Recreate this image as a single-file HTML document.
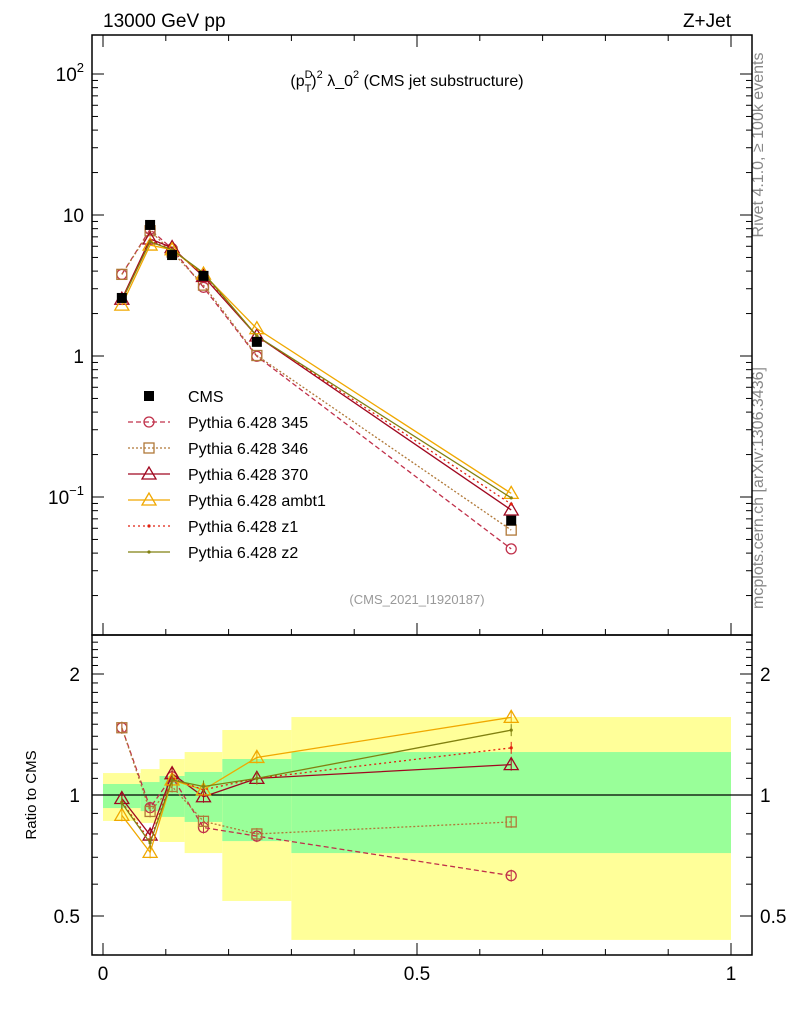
<!DOCTYPE html>
<html><head><meta charset="utf-8"><style>
body{margin:0;background:#fff}
svg{display:block;font-family:"Liberation Sans",sans-serif}
</style></head><body>
<svg id="c" width="786" height="1024" viewBox="0 0 786 1024">
<text x="103" y="27" font-size="19">13000 GeV pp</text>
<text x="731" y="27" font-size="19" text-anchor="end">Z+Jet</text>
<text x="407" y="86" font-size="16" text-anchor="middle">(p<tspan font-size="11" dy="-8">D</tspan><tspan font-size="11" dy="14" dx="-8">T</tspan><tspan dy="-6">)</tspan><tspan font-size="11" dy="-8">2</tspan><tspan dy="8"> λ_0</tspan><tspan font-size="11" dy="-8">2</tspan><tspan dy="8"> (CMS jet substructure)</tspan></text>
<text x="417" y="604" font-size="13" fill="#999" text-anchor="middle">(CMS_2021_I1920187)</text>
<text transform="translate(763,145) rotate(-90)" font-size="16" fill="#888" text-anchor="middle">Rivet 4.1.0, ≥ 100k events</text>
<text transform="translate(763,488) rotate(-90)" font-size="16" fill="#888" text-anchor="middle">mcplots.cern.ch [arXiv:1306.3436]</text>
<text transform="translate(36,795) rotate(-90)" font-size="15" text-anchor="middle">Ratio to CMS</text>
<g id="bands"></g><g id="axes"></g><g id="series"></g><g id="legend"></g>
</svg>
<script>
const edges=[0,0.06,0.09,0.13,0.19,0.30,1.0];
const xs=[0.03,0.075,0.11,0.16,0.245,0.65];
const cms=[2.58,8.5,5.2,3.7,1.26,0.068];
const yelHi=[1.134,1.16,1.229,1.279,1.451,1.563];
const yelLo=[0.862,0.852,0.764,0.717,0.545,0.436];
const grnHi=[1.065,1.077,1.115,1.141,1.229,1.279];
const grnLo=[0.928,0.912,0.882,0.857,0.768,0.717];
const r345=[1.47,0.93,1.11,0.83,0.79,0.63];
const r346=[1.47,0.91,1.05,0.86,0.80,0.857];
const r370=[0.98,0.795,1.13,0.99,1.10,1.19];
const rAmbt1=[0.89,0.72,1.09,1.03,1.24,1.56];
const rZ1=[0.96,0.77,1.10,1.03,1.10,1.31];
const rZ2=[0.955,0.76,1.09,1.05,1.10,1.45];
const mainTicks=["10^-1","1","10","10^2"];
const ratioTicks=["0.5","1","2"];
const xTicks=["0","0.5","1"];

const NS="http://www.w3.org/2000/svg";
const X=v=>103+v*628;
const Ym=v=>356-141*Math.log10(v);
const Yr=v=>795-121*Math.log2(v);
function mk(t,a,p){const e=document.createElementNS(NS,t);for(const k in a)e.setAttribute(k,a[k]);p.appendChild(e);return e;}
const bands=document.getElementById('bands'),axes=document.getElementById('axes'),ser=document.getElementById('series'),leg=document.getElementById('legend');
for(let i=0;i<6;i++){
 const y=mk('rect',{x:X(edges[i]),y:Yr(yelHi[i]),width:X(edges[i+1])-X(edges[i]),height:Yr(yelLo[i])-Yr(yelHi[i]),fill:'#ffff99'},bands);
 
 
 const g=mk('rect',{x:X(edges[i]),y:Yr(grnHi[i]),width:X(edges[i+1])-X(edges[i]),height:Yr(grnLo[i])-Yr(grnHi[i]),fill:'#99ff99'},bands);
 
 
}
const f1=mk('rect',{x:92,y:35,width:660,height:600,fill:'none',stroke:'#000','stroke-width':1.5},axes);


const f2=mk('rect',{x:92,y:635,width:660,height:320,fill:'none',stroke:'#000','stroke-width':1.5},axes);


const one=mk('line',{x1:92,x2:752,y1:795,y2:795,stroke:'#000','stroke-width':1.2},axes);


for(let k=0;k<=10;k++){const v=k/10,maj=k%5==0;
 for(const yb of [955,635]){mk('line',{x1:X(v),x2:X(v),y1:yb,y2:yb-(maj?12:6),stroke:'#000'},axes);}
 mk('line',{x1:X(v),x2:X(v),y1:35,y2:35+(maj?12:6),stroke:'#000'},axes);}
xTicks.forEach((t,i)=>{const e=mk('text',{x:X(i*0.5),y:980,'font-size':19,'text-anchor':'middle'},axes);e.textContent=t;
 
 });
for(let d=-2;d<=2;d++)for(let m=1;m<10;m++){const v=m*Math.pow(10,d),y=Ym(v);if(y<35||y>635)continue;const L=m==1?12:6;
 mk('line',{x1:92,x2:92+L,y1:y,y2:y,stroke:'#000'},axes);mk('line',{x1:752,x2:752-L,y1:y,y2:y,stroke:'#000'},axes);}
const mv=[0.1,1,10,100];
mainTicks.forEach((t,i)=>{const y=Ym(mv[i])+7;const e=mk('text',{x:84,y:y,'font-size':19,'text-anchor':'end'},axes);
 
 
 if(t.includes('^')){const [b,p]=t.split('^');e.textContent=b;const s=mk('tspan',{'font-size':13,dy:-9},e);s.textContent=p.replace('-','−');}else e.textContent=t;});
for(let k=0;k<=30;k++){const v=0.4+k*0.1;if(v>2.5)break;const y=Yr(v);if(y<635||y>955)continue;
 const maj=[0.5,1,2].some(q=>Math.abs(q-v)<1e-6);const L=maj?12:6;
 mk('line',{x1:92,x2:92+L,y1:y,y2:y,stroke:'#000'},axes);mk('line',{x1:752,x2:752-L,y1:y,y2:y,stroke:'#000'},axes);}
const rv=[0.5,1,2];
ratioTicks.forEach((t,i)=>{for(const [x,a] of [[80,'end'],[760,'start']]){const e=mk('text',{x:x,y:Yr(rv[i])+7,'font-size':19,'text-anchor':a},axes);e.textContent=t;
 
 }});
const defs=[
 {n:'pythia-345',lab:'Pythia 6.428 345',r:r345,c:'#c0304a',d:'5,3',m:'circle'},
 {n:'pythia-346',lab:'Pythia 6.428 346',r:r346,c:'#b07838',d:'2,2',m:'square'},
 {n:'pythia-370',lab:'Pythia 6.428 370',r:r370,c:'#a00820',d:'',m:'tri'},
 {n:'pythia-ambt1',lab:'Pythia 6.428 ambt1',r:rAmbt1,c:'#f0a800',d:'',m:'tri'},
 {n:'pythia-z1',lab:'Pythia 6.428 z1',r:rZ1,c:'#e02010',d:'2,3',m:'dot'},
 {n:'pythia-z2',lab:'Pythia 6.428 z2',r:rZ2,c:'#808010',d:'',m:'dot'}];
function marker(m,x,y,c,p){
 if(m=='circle')return mk('circle',{cx:x,cy:y,r:5,fill:'none',stroke:c,'stroke-width':1.3},p);
 if(m=='square')return mk('rect',{x:x-5,y:y-5,width:10,height:10,fill:'none',stroke:c,'stroke-width':1.3},p);
 if(m=='tri')return mk('polygon',{points:`${x},${y-7} ${x-7},${y+5} ${x+7},${y+5}`,fill:'none',stroke:c,'stroke-width':1.3},p);
 return mk('circle',{cx:x,cy:y,r:1.6,fill:c},p);}
defs.forEach((s,j)=>{
 const g=mk('g',{},ser);
 
 
 const pm=xs.map((x,i)=>X(x)+','+Ym(cms[i]*s.r[i])).join(' ');
 const pr=xs.map((x,i)=>X(x)+','+Yr(s.r[i])).join(' ');
 mk('polyline',{points:pm,fill:'none',stroke:s.c,'stroke-width':1.3,'stroke-dasharray':s.d},g);
 mk('polyline',{points:pr,fill:'none',stroke:s.c,'stroke-width':1.3,'stroke-dasharray':s.d},g);
 xs.forEach((x,i)=>{marker(s.m,X(x),Ym(cms[i]*s.r[i]),s.c,g);
  const yr=Yr(s.r[i]);mk('line',{x1:X(x),x2:X(x),y1:yr-6,y2:yr+6,stroke:s.c},g);marker(s.m,X(x),yr,s.c,g);});
 const ly=422+26*j;
 mk('line',{x1:128,x2:170,y1:ly,y2:ly,stroke:s.c,'stroke-width':1.3,'stroke-dasharray':s.d},leg);
 marker(s.m,149,ly,s.c,leg);
 const t=mk('text',{x:188,y:ly+6,'font-size':16},leg);t.textContent=s.lab;
 
 
});
const cg=mk('g',{},ser);


xs.forEach((x,i)=>mk('rect',{x:X(x)-5,y:Ym(cms[i])-5,width:10,height:10,fill:'#000'},cg));
mk('rect',{x:144,y:391,width:10,height:10,fill:'#000'},leg);
const ct=mk('text',{x:188,y:402,'font-size':16},leg);ct.textContent='CMS';


</script>
</body></html>
